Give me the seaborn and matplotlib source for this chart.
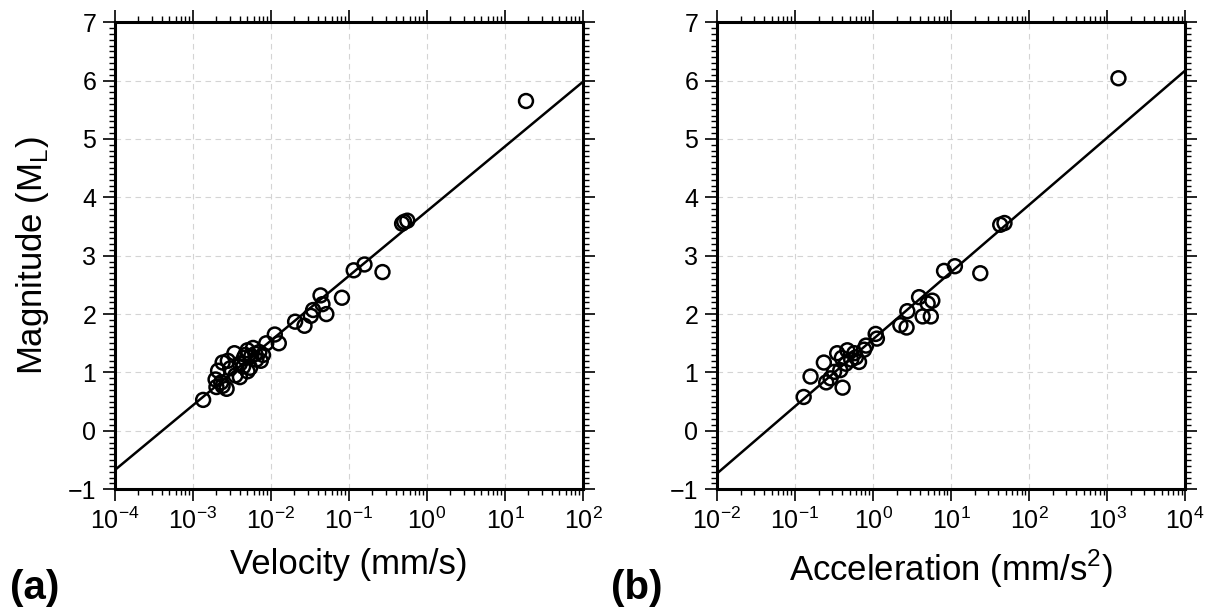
import numpy as np
import pandas as pd
import matplotlib
matplotlib.use("Agg")
import matplotlib.pyplot as plt
import matplotlib.ticker as mticker
import seaborn as sns

# velocity panel (mm/s) and magnitude
velocity = [0.00135, 0.0020, 0.0024, 0.0027, 0.0023, 0.00195, 0.0021, 0.0024,
            0.0030, 0.0034, 0.0035, 0.0040, 0.0044, 0.0050, 0.0050, 0.0059,
            0.0065, 0.0071, 0.0074, 0.0056, 0.0045, 0.0040, 0.0079, 0.0087,
            0.0028, 0.0047, 0.0054, 0.0063,
            0.0112, 0.0126, 0.0204, 0.0269, 0.0324, 0.0347, 0.0457, 0.0432,
            0.0513, 0.0813, 0.115, 0.158, 0.269, 0.48, 0.51, 0.56, 18.6]
mag_vel = [0.53, 0.75, 0.77, 0.72, 0.83, 0.88, 1.03, 1.17,
           1.07, 1.33, 0.95, 0.92, 1.10, 1.38, 1.02, 1.42,
           1.22, 1.35, 1.20, 1.28, 1.25, 1.15, 1.30, 1.50,
           1.20, 1.30, 1.08, 1.32,
           1.65, 1.50, 1.87, 1.80, 1.97, 2.07, 2.17, 2.32,
           2.00, 2.28, 2.75, 2.85, 2.72, 3.55, 3.58, 3.60, 5.65]

# acceleration panel (mm/s^2) and magnitude
accel = [0.129, 0.158, 0.234, 0.251, 0.285, 0.407, 0.347, 0.468, 0.575,
         0.380, 0.316, 0.447, 0.661, 0.767, 0.813, 0.525, 0.398, 0.603,
         1.08, 1.12, 2.24, 2.69, 2.75, 3.89, 4.32, 5.50, 5.75, 5.01,
         8.13, 11.2, 23.7, 42.7, 48.4, 1400.0]
mag_acc = [0.58, 0.93, 1.17, 0.83, 0.90, 0.74, 1.33, 1.38, 1.33,
           1.04, 1.01, 1.15, 1.18, 1.39, 1.46, 1.22, 1.25, 1.26,
           1.66, 1.58, 1.81, 1.77, 2.05, 2.29, 1.96, 1.96, 2.23, 2.18,
           2.74, 2.82, 2.70, 3.53, 3.56, 6.04]

# regression line end points
vel_fit_x = [1e-4, 1e2]
vel_fit_y = [-0.67, 5.98]
acc_fit_x = [1e-2, 1e4]
acc_fit_y = [-0.73, 6.17]

sns.set_theme(style="ticks")
plt.rcParams['font.family'] = ['Liberation Sans', 'DejaVu Sans']
plt.rcParams['mathtext.fontset'] = 'custom'
plt.rcParams['mathtext.rm'] = 'Liberation Sans'
plt.rcParams['text.color'] = 'black'
plt.rcParams['axes.labelcolor'] = 'black'
plt.rcParams['xtick.color'] = 'black'
plt.rcParams['ytick.color'] = 'black'

fig = plt.figure(figsize=(12.1, 6.1), dpi=100)
ax1 = fig.add_axes([0.0950, 0.198, 0.3868, 0.7656])
ax2 = fig.add_axes([0.5926, 0.198, 0.3868, 0.7656])

panels = [
    (ax1, velocity, mag_vel, vel_fit_x, vel_fit_y, (1e-4, 1e2), 'Velocity (mm/s)', '(a)', 0.008),
    (ax2, accel, mag_acc, acc_fit_x, acc_fit_y, (1e-2, 1e4), 'Acceleration (mm/s$^\\mathregular{2}$)', '(b)', 0.505),
]

for ax, xs, ys, fx, fy, xlim, xlabel, tag, tagx in panels:
    df = pd.DataFrame({'x': xs, 'M': ys})
    fit = pd.DataFrame({'x': fx, 'M': fy})
    sns.lineplot(data=fit, x='x', y='M', ax=ax, color='black', linewidth=1.8, zorder=3)
    sns.scatterplot(data=df, x='x', y='M', ax=ax, marker='o', s=100,
                    facecolor='none', edgecolor='black', linewidth=1.8, zorder=4)
    ax.set_xscale('log')
    ax.set_xlim(*xlim)
    ax.set_ylim(-1, 7)
    ax.xaxis.set_major_locator(mticker.LogLocator(base=10, numticks=20))
    ax.xaxis.set_minor_locator(mticker.LogLocator(base=10, subs=np.arange(2, 10), numticks=20))
    ax.xaxis.set_minor_formatter(mticker.NullFormatter())
    ax.yaxis.set_major_locator(mticker.MultipleLocator(1))
    ax.yaxis.set_minor_locator(mticker.MultipleLocator(0.1))
    ax.yaxis.set_major_formatter(mticker.FuncFormatter(lambda v, p: f"{int(v)}".replace('-', '\u2212')))
    ax.grid(which='major', color='#d4d4d4', linestyle='--', linewidth=0.8, dashes=(5, 4))
    ax.set_axisbelow(True)
    for sp in ax.spines.values():
        sp.set_linewidth(2.2)
        sp.set_color('black')
    ax.tick_params(which='major', direction='out', length=8.5, width=1.2,
                   top=True, right=True, labelsize=18, pad=5, color='black')
    ax.tick_params(which='minor', direction='out', length=4.5, width=1.0,
                   top=True, right=True, color='black')
    ax.set_xlabel(xlabel, fontsize=25, labelpad=10)
    ax.set_ylabel('')
    fig.text(tagx, 0.005, tag, fontsize=29, fontweight='bold', ha='left', va='bottom')

ax1.set_ylabel('Magnitude (M$_\\mathregular{L}$)', fontsize=25, labelpad=12)

fig.savefig('out.png', dpi=100, facecolor='white')
